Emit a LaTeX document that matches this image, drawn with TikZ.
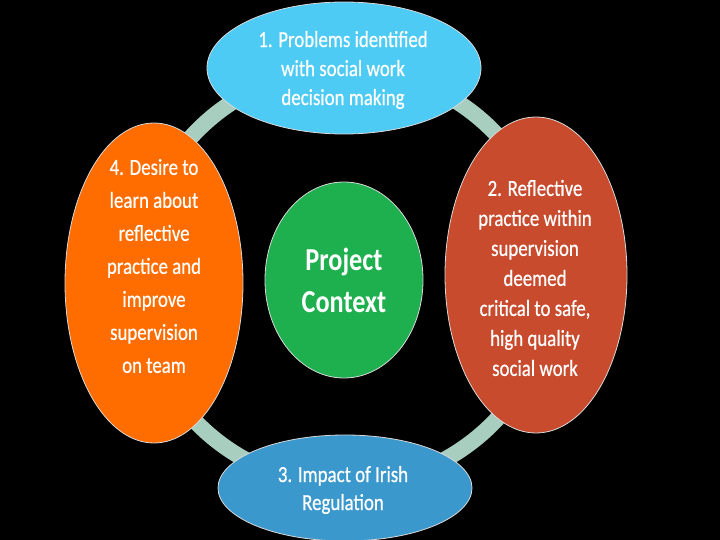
\documentclass[tikz,border=0pt]{standalone}
\usepackage{fontspec}
\setmainfont{Carlito}[FakeStretch=0.82]
\newfontfamily\bodyf{Carlito}[FakeStretch=0.82,FakeBold=0.6]
\usetikzlibrary{shapes.geometric}
\definecolor{ringc}{HTML}{A8CEBF}
\definecolor{topc}{HTML}{4DCBF4}
\definecolor{rightc}{HTML}{C84B2E}
\definecolor{botc}{HTML}{3B98CC}
\definecolor{leftc}{HTML}{FF6C00}
\definecolor{midc}{HTML}{1EAF4E}
\tikzset{
  blob/.style={ellipse, inner sep=0pt, draw=white!85!black, line width=0.8pt},
  lbl/.style={inner sep=0pt, text=white, align=center},
  ring/.style={draw=ringc, line width=16pt},
}
\begin{document}
\begin{tikzpicture}[x=1pt,y=-1pt]
\fill[black] (0,0) rectangle (720,540);
\useasboundingbox (0,0) rectangle (720,540);
\draw[ring] (345,277) circle (208);
\node[blob, fill=topc, minimum width=274pt, minimum height=132pt] (top) at (344,68) {};
\node[lbl, font=\fontsize{23}{29}\bodyf] (topt) at (343,70)
  {1. Problems identified\\with social work\\decision making};
\node[blob, fill=botc, minimum width=254pt, minimum height=106pt] (bot) at (345,488) {};
\node[lbl, font=\fontsize{23}{28}\bodyf] (bott) at (343,490)
  {3. Impact of Irish\\Regulation};
\node[blob, fill=leftc, minimum width=178pt, minimum height=320pt] (left) at (154,283) {};
\node[lbl, font=\fontsize{23}{33}\bodyf] (leftt) at (154,266)
  {4. Desire to\\learn about\\reflective\\practice and\\improve\\supervision\\on team};
\node[blob, fill=rightc, minimum width=182pt, minimum height=316pt] (right) at (536,275) {};
\node[lbl, font=\fontsize{23}{30}\bodyf] (rightt) at (535,278)
  {2. Reflective\\practice within\\supervision\\deemed\\critical to safe,\\high quality\\social work};
\node[blob, fill=midc, minimum width=158pt, minimum height=196pt] (mid) at (344,280) {};
\node[lbl, font=\fontsize{32}{42}\selectfont\bfseries] (midt) at (344,280)
  {Project\\Context};
\end{tikzpicture}
\end{document}
